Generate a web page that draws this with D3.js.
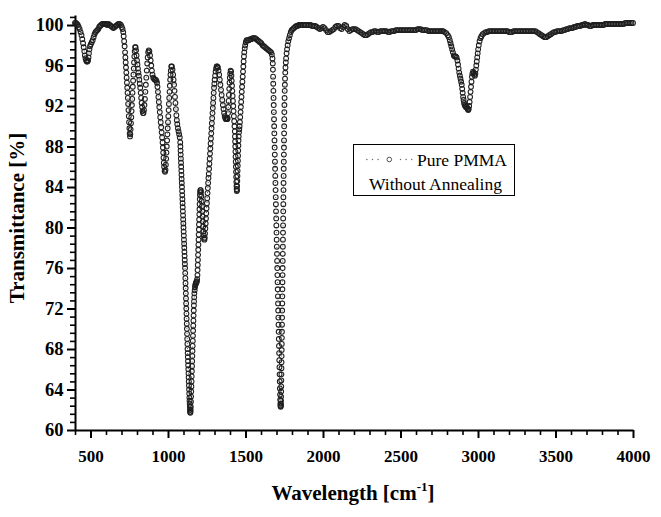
<!DOCTYPE html>
<html>
<head>
<meta charset="utf-8">
<script src="https://cdn.jsdelivr.net/npm/d3@7"></script>
<style>
  body { margin: 0; background: #fff; }
  svg { display: block; }
  text { font-family: "Times New Roman", "Liberation Serif", serif; }
</style>
</head>
<body>
<script>
// FTIR spectrum, Pure PMMA without annealing: [wavenumber cm-1, transmittance %]
const spectrum = [
  [400,100.2],[406,100.2],[412,100.1],[418,100.0],[424,99.8],[430,99.6],[436,99.3],[442,99.0],[447,98.6],[452,98.2],[456,97.8],[460,97.4],[464,97.0],[468,96.7],[472,96.5],[476,96.4],[480,96.4],[484,96.5],[487,96.8],[490,97.2],[493,97.6],[497,97.9],[502,98.1],[508,98.3],[514,98.5],[520,98.8],[526,99.1],[532,99.3],[538,99.4],[544,99.5],[550,99.6],[556,99.8],[562,99.9],[568,100.0],[576,100.1],[584,100.1],[592,100.1],[600,100.1],[608,100.0],[616,100.1],[624,100.0],[632,99.9],[640,99.8],[648,99.7],[656,99.8],[664,99.9],[672,100.0],[680,100.1],[688,100.1],[696,100.0],[702,99.8],[707,99.6],[711,99.3],[714,98.9],[717,98.4],
  [720,97.9],[723,97.3],[725,96.8],[727,96.3],[729,95.8],[731,95.3],[733,94.8],[735,94.3],[737,93.8],[739,93.3],[741,92.8],[743,92.2],[745,91.6],[747,91.0],[749,90.4],[751,89.8],[753,89.3],[755,89.0],[757,89.2],[759,89.7],[761,90.3],[763,90.9],[765,91.5],[767,92.1],[769,92.7],[771,93.3],[773,93.9],[775,94.5],[777,95.1],[779,95.7],[781,96.3],[783,96.9],[785,97.4],[788,97.8],[791,97.8],[794,97.5],[797,97.0],[800,96.5],[803,96.1],[806,95.7],[809,95.3],[812,95.0],[815,94.6],[818,94.2],[821,93.8],[824,93.3],[827,92.8],[830,92.3],[833,91.9],[836,91.5],[839,91.3],[842,91.3],[845,91.6],[848,92.1],[851,92.7],[854,93.4],[857,94.1],[860,94.8],[863,95.5],[866,96.2],[869,96.8],[872,97.3],[876,97.5],[880,97.4],[884,97.0],[888,96.5],[892,96.0],[896,95.5],[900,95.1],[905,94.8],[910,94.7],[915,94.6],[920,94.6],[925,94.5],[929,94.3],[932,93.9],[935,93.4],[938,92.9],[941,92.4],[944,91.9],[947,91.4],[950,90.9],[953,90.4],[956,89.9],[959,89.4],[962,88.9],[965,88.4],[967,87.9],[969,87.4],[971,86.9],[973,86.4],[975,86.0],[978,85.6],[981,85.5],[984,85.7],[986,86.2],[988,86.8],[990,87.4],[992,88.0],[994,88.6],[996,89.2],[998,89.8],[1000,90.4],[1002,91.0],[1004,91.6],[1006,92.2],[1008,92.8],[1010,93.4],[1012,94.0],[1014,94.6],[1016,95.1],[1018,95.5],[1021,95.9],[1025,95.9],[1029,95.6],[1033,95.1],[1036,94.6],[1039,94.1],[1042,93.5],[1045,92.9],[1048,92.3],[1051,91.7],[1054,91.1],[1057,90.6],[1060,90.2],[1064,89.8],[1068,89.5],[1072,89.2],[1076,88.9],[1079,88.4],
  [1080,88.0],[1081,87.6],[1082,87.2],[1083,86.8],[1084,86.4],[1085,86.0],[1086,85.6],[1087,85.2],[1088,84.8],[1089,84.4],[1090,84.0],[1091,83.6],[1092,83.2],[1093,82.8],[1094,82.4],[1095,82.0],[1096,81.6],[1097,81.2],[1098,80.8],[1099,80.4],[1100,80.0],[1101,79.6],[1102,79.2],[1103,78.8],[1104,78.4],[1105,78.0],[1106,77.6],[1107,77.2],[1108,76.8],[1109,76.4],[1110,76.0],[1111,75.5],[1112,75.0],[1113,74.5],[1114,74.0],[1115,73.5],[1116,73.0],[1117,72.5],[1118,72.0],[1119,71.5],[1120,71.0],[1121,70.5],[1122,70.0],[1123,69.5],[1124,69.0],[1125,68.5],[1126,68.0],[1127,67.6],[1128,67.2],[1129,66.8],[1130,66.4],[1131,66.0],[1132,65.6],[1133,65.2],[1134,64.8],[1135,64.4],[1136,64.0],[1137,63.6],[1138,63.2],[1139,62.9],[1140,62.6],[1141,62.3],[1142,62.0],[1143,61.8],[1144,61.7],[1145,61.8],[1146,62.0],
  [1147,62.3],[1148,62.8],[1149,63.3],[1150,63.8],[1151,64.3],[1152,64.8],[1153,65.3],[1154,65.8],[1155,66.3],[1156,66.8],[1157,67.3],[1158,67.8],[1159,68.3],[1160,68.8],[1161,69.3],[1162,69.8],[1163,70.3],[1164,70.8],[1165,71.3],[1166,71.8],[1167,72.3],[1168,72.7],[1169,73.1],[1170,73.5],[1172,73.8],[1174,74.1],[1176,74.3],[1178,74.4],[1180,74.5],[1182,74.6],[1184,74.6],[1186,74.7],[1188,74.9],[1190,75.3],[1191,75.8],[1192,76.3],[1193,76.8],[1194,77.3],[1195,77.8],[1196,78.3],[1197,78.8],[1198,79.3],[1199,79.8],[1200,80.3],[1201,80.8],[1202,81.3],[1203,81.8],[1204,82.3],[1205,82.8],[1206,83.2],[1207,83.5],[1209,83.7],[1211,83.7],[1213,83.5],[1215,83.1],[1217,82.6],[1219,82.1],[1221,81.6],[1223,81.1],[1225,80.6],[1227,80.1],[1229,79.6],[1231,79.2],[1233,78.9],[1235,78.8],[1237,79.0],[1239,79.4],[1241,79.9],[1243,80.4],[1245,80.9],[1247,81.4],[1249,81.9],[1251,82.4],[1253,82.9],[1255,83.4],[1257,83.9],[1259,84.4],[1261,84.9],[1263,85.3],[1265,85.8],[1267,86.3],[1269,86.8],[1271,87.3],[1273,87.8],[1275,88.3],[1277,88.8],[1279,89.3],[1281,89.8],[1283,90.3],[1285,90.8],[1287,91.3],[1289,91.8],[1291,92.3],[1293,92.8],[1295,93.3],[1297,93.8],[1299,94.2],[1301,94.6],[1304,95.0],[1307,95.4],[1310,95.7],[1314,95.9],[1318,95.9],[1322,95.8],[1326,95.5],[1330,95.1],[1334,94.6],[1338,94.1],[1342,93.6],[1346,93.1],[1350,92.6],[1354,92.1],[1358,91.7],[1362,91.3],[1366,91.0],[1370,90.8],[1374,90.7],[1378,90.8],[1382,90.7],[1385,90.8],
  [1387,91.3],[1389,91.9],[1391,92.5],[1393,93.1],[1395,93.7],[1397,94.3],[1399,94.8],[1401,95.2],[1404,95.5],[1407,95.4],[1409,95.0],[1411,94.5],[1413,94.0],[1415,93.5],[1417,93.0],[1419,92.5],[1421,92.0],[1423,91.5],[1425,91.0],[1427,90.5],[1429,90.0],[1431,89.5],[1432,89.0],[1433,88.5],[1434,88.0],[1435,87.5],[1436,87.0],[1437,86.5],[1438,86.0],[1439,85.5],[1440,85.0],[1441,84.5],[1442,84.1],[1443,83.8],[1444,83.6],[1445,83.7],[1446,84.1],[1447,84.6],[1448,85.1],[1449,85.6],[1450,86.1],[1451,86.6],[1452,87.1],[1453,87.6],[1454,88.1],[1455,88.6],[1456,89.0],[1458,89.4],[1460,89.7],[1462,90.0],[1464,90.4],[1466,90.9],[1468,91.4],[1470,91.9],[1472,92.4],[1474,92.9],[1476,93.4],[1478,93.9],[1480,94.4],[1482,94.9],[1484,95.4],[1486,95.9],[1488,96.4],[1490,96.9],[1492,97.3],[1495,97.7],[1498,98.0],[1502,98.3],[1507,98.5],[1514,98.5],[1522,98.5],[1530,98.6],[1538,98.6],[1546,98.7],[1554,98.7],[1562,98.7],[1570,98.6],[1578,98.5],[1586,98.4],[1594,98.3],[1602,98.2],[1610,98.0],[1618,97.9],[1626,97.8],[1634,97.7],[1642,97.6],[1650,97.5],[1658,97.4],[1665,97.3],[1670,97.1],[1674,96.7],
  [1676,96.2],[1677,95.6],[1678,94.9],[1679,94.2],[1680,93.5],[1681,92.8],[1682,92.1],[1683,91.4],[1684,90.7],[1685,90.0],[1686,89.3],[1687,88.6],[1688,87.9],[1689,87.2],[1690,86.5],[1691,85.8],[1692,85.1],[1693,84.4],[1694,83.7],[1695,83.0],[1696,82.3],[1697,81.6],[1698,80.9],[1699,80.2],[1700,79.5],[1701,78.8],[1702,78.1],[1703,77.4],[1704,76.7],[1705,76.0],[1706,75.3],[1707,74.6],[1708,73.9],[1709,73.2],[1710,72.5],[1711,71.8],[1712,71.1],[1713,70.4],[1714,69.7],[1715,69.0],[1716,68.3],[1717,67.6],[1718,66.9],[1719,66.2],[1720,65.5],[1721,64.8],[1722,64.1],[1723,63.5],[1724,63.0],[1725,62.6],[1726,62.4],[1727,62.3],
  [1728,62.4],[1728.5,62.6],[1729,62.9],[1729.5,63.3],[1730,63.8],[1730.5,64.3],[1731,64.9],[1731.5,65.5],[1732,66.1],[1732.5,66.7],[1733,67.3],[1733.5,67.9],[1734,68.5],[1734.5,69.1],[1735,69.7],[1735.5,70.4],[1736,71.1],[1736.5,71.8],[1737,72.5],[1737.5,73.2],[1738,73.9],[1738.5,74.6],[1739,75.3],[1739.5,76.0],[1740,76.7],[1740.5,77.4],[1741,78.1],[1741.5,78.8],[1742,79.5],[1742.5,80.2],[1743,80.9],[1743.5,81.6],[1744,82.3],[1744.5,83.0],[1745,83.7],[1745.5,84.4],[1746,85.1],[1746.5,85.8],[1747,86.5],[1747.5,87.2],[1748,87.9],[1748.5,88.6],[1749,89.3],[1749.5,90.0],[1750,90.7],[1750.5,91.4],[1751,92.1],[1752,92.8],[1753,93.5],[1754,94.1],[1755,94.7],[1756.5,95.3],[1758,95.8],[1760,96.3],[1762,96.7],[1765,97.2],[1768,97.6],[1772,98.0],[1776,98.4],[1781,98.7],[1786,99.0],[1792,99.3],[1798,99.5],[1805,99.6],[1812,99.7],[1820,99.8],[1828,99.9],[1836,99.9],[1844,100.0],[1852,100.0],
  [1860,100.0],[1870,100.0],[1880,100.0],[1890,100.0],[1900,100.0],[1910,100.0],[1920,100.0],[1930,99.9],[1940,99.9],[1950,99.9],[1960,99.8],[1970,99.7],[1980,99.6],[1990,99.7],[2000,99.8],[2010,99.7],[2020,99.5],[2030,99.3],[2040,99.3],[2050,99.4],[2060,99.5],[2070,99.6],[2080,99.8],[2090,99.9],[2100,99.9],[2110,99.7],[2120,99.6],[2130,99.8],[2140,100.0],[2150,99.9],[2160,99.6],[2170,99.4],[2180,99.5],[2190,99.6],[2200,99.6],[2210,99.6],[2220,99.5],[2230,99.4],[2240,99.3],[2250,99.2],[2260,99.1],[2270,99.0],[2280,99.0],[2290,99.1],[2300,99.2],[2310,99.3],[2320,99.3],[2330,99.4],[2340,99.4],[2350,99.3],[2360,99.3],[2370,99.4],[2380,99.4],[2390,99.4],[2400,99.4],[2410,99.4],[2420,99.3],[2430,99.3],[2440,99.4],[2450,99.4],[2460,99.4],[2470,99.5],[2480,99.5],[2490,99.5],[2500,99.5],[2510,99.5],[2520,99.5],[2530,99.5],[2540,99.5],[2550,99.5],[2560,99.5],[2570,99.5],[2580,99.5],[2590,99.5],[2600,99.5],[2610,99.6],[2620,99.6],[2630,99.6],[2640,99.5],[2650,99.5],[2660,99.5],[2670,99.5],[2680,99.4],[2690,99.4],[2700,99.4],[2710,99.4],[2720,99.4],[2730,99.4],[2740,99.4],[2750,99.4],[2760,99.4],[2768,99.4],
  [2775,99.4],[2785,99.3],[2795,99.2],[2805,99.0],[2812,98.8],[2818,98.5],[2823,98.2],[2828,97.9],[2833,97.6],[2838,97.3],[2844,97.0],[2850,96.9],[2856,96.9],[2862,96.8],[2867,96.5],[2871,96.1],[2875,95.7],[2879,95.3],[2883,95.0],[2887,94.7],[2891,94.4],[2895,94.1],[2898,93.7],[2901,93.3],[2904,92.9],[2907,92.6],[2910,92.3],[2914,92.1],[2918,92.0],[2922,91.9],[2926,91.9],[2930,91.8],[2934,91.7],[2937,91.6],[2940,91.7],[2943,92.0],[2946,92.4],[2949,92.9],[2952,93.4],[2955,93.9],[2958,94.4],[2961,94.9],[2964,95.2],[2968,95.4],[2972,95.3],[2976,95.1],[2980,95.0],[2983,95.2],[2986,95.6],[2989,96.0],[2992,96.4],[2995,96.8],[2998,97.2],[3001,97.6],[3005,98.0],[3010,98.4],[3016,98.7],[3022,98.9],[3030,99.1],[3040,99.2],[3050,99.3],[3060,99.3],
  [3070,99.4],[3080,99.4],[3090,99.4],[3100,99.4],[3110,99.4],[3120,99.4],[3130,99.4],[3140,99.4],[3150,99.4],[3160,99.4],[3170,99.4],[3180,99.4],[3190,99.4],[3200,99.3],[3210,99.3],[3220,99.3],[3230,99.4],[3240,99.4],[3250,99.4],[3260,99.4],[3270,99.4],[3280,99.4],[3290,99.4],[3300,99.4],[3310,99.4],[3320,99.4],[3330,99.4],[3340,99.4],[3350,99.4],[3360,99.4],[3370,99.4],[3380,99.3],[3390,99.2],[3400,99.1],[3410,99.0],[3420,98.9],[3430,98.8],[3440,98.8],[3450,98.9],[3460,99.0],[3470,99.1],[3480,99.2],[3490,99.3],[3500,99.3],[3510,99.4],[3520,99.4],[3530,99.4],[3540,99.4],[3550,99.5],[3560,99.5],[3570,99.6],[3580,99.6],[3590,99.7],[3600,99.7],[3610,99.7],[3620,99.8],[3630,99.8],[3640,99.9],[3650,99.9],[3660,99.9],[3670,100.0],[3680,100.0],[3690,100.1],[3700,100.0],[3710,100.0],[3720,99.9],[3730,99.9],[3740,100.0],[3750,100.0],[3760,100.0],[3770,100.0],[3780,100.0],[3790,100.0],[3800,100.0],[3810,100.0],[3820,100.1],[3830,100.1],[3840,100.1],[3850,100.1],[3860,100.1],[3870,100.1],[3880,100.1],[3890,100.1],[3900,100.1],[3910,100.1],[3920,100.1],[3930,100.1],[3940,100.1],[3950,100.2],[3960,100.2],[3970,100.2],[3980,100.2],[3990,100.2],[4000,100.2]
];

const xTicks = [500, 1000, 1500, 2000, 2500, 3000, 3500, 4000];
const yTicks = [60, 64, 68, 72, 76, 80, 84, 88, 92, 96, 100];
const legendLabels = ['Pure PMMA', 'Without Annealing'];

const width = 661, height = 517;

const xScale = d3.scaleLinear().domain([400, 4000]).range([75, 633]);
const yScale = d3.scaleLinear().domain([60, 101]).range([430, 14.9]);

// minor ticks: every 100 cm-1 on x, 5 intervals per major on y
const xMinor = d3.range(4, 41).map(i => i * 100).filter(v => v % 500 !== 0);
const yMinor = d3.range(0, 52).filter(i => i % 5 !== 0).map(i => 60 + i * 0.8);

const svg = d3.create('svg')
    .attr('width', width)
    .attr('height', height)
    .attr('viewBox', [0, 0, width, height]);

// x axis
const gxMinor = svg.append('g')
    .attr('transform', 'translate(0,430)')
    .call(d3.axisBottom(xScale).tickValues(xMinor).tickSize(5).tickSizeOuter(0).tickFormat(''));
gxMinor.select('.domain').remove();
gxMinor.selectAll('line').attr('stroke-width', 1.6);

const gx = svg.append('g')
    .attr('transform', 'translate(0,430)')
    .call(d3.axisBottom(xScale).tickValues(xTicks).tickSize(8).tickSizeOuter(0).tickFormat(d3.format('d')));
gx.select('.domain').attr('stroke-width', 2);
gx.selectAll('line').attr('stroke-width', 2);
gx.selectAll('text')
    .attr('y', 32).attr('dy', 0)
    .attr('font-size', 17).attr('font-weight', 'bold')
    .attr('font-family', '"Times New Roman", "Liberation Serif", serif');

// y axis
const gyMinor = svg.append('g')
    .attr('transform', 'translate(75,0)')
    .call(d3.axisLeft(yScale).tickValues(yMinor).tickSize(5).tickSizeOuter(0).tickFormat(''));
gyMinor.select('.domain').remove();
gyMinor.selectAll('line').attr('stroke-width', 1.6);

const gy = svg.append('g')
    .attr('transform', 'translate(75,0)')
    .call(d3.axisLeft(yScale).tickValues(yTicks).tickSize(8).tickSizeOuter(0));
gy.select('.domain').attr('stroke-width', 2);
gy.selectAll('line').attr('stroke-width', 2);
gy.selectAll('text')
    .attr('x', -11.5)
    .attr('font-size', 18.5).attr('font-weight', 'bold')
    .attr('font-family', '"Times New Roman", "Liberation Serif", serif');

// data: dotted connecting line + open circles
const line = d3.line().x(d => xScale(d[0])).y(d => yScale(d[1]));
svg.append('path')
    .datum(spectrum)
    .attr('d', line)
    .attr('fill', 'none')
    .attr('stroke', '#555')
    .attr('stroke-width', 1)
    .attr('stroke-dasharray', '1 4');

svg.append('g')
    .attr('fill', 'none')
    .attr('stroke', '#1e1e1e')
    .attr('stroke-width', 1.05)
  .selectAll('circle')
  .data(spectrum)
  .join('circle')
    .attr('cx', d => xScale(d[0]))
    .attr('cy', d => yScale(d[1]))
    .attr('r', 2.4);

// axis titles
svg.append('text')
    .attr('transform', 'translate(24,218) rotate(-90)')
    .attr('text-anchor', 'middle')
    .attr('font-size', 21).attr('font-weight', 'bold')
    .text('Transmittance [%]');

const xt = svg.append('text')
    .attr('x', 353).attr('y', 500)
    .attr('text-anchor', 'middle')
    .attr('font-size', 21).attr('font-weight', 'bold');
xt.append('tspan').text('Wavelength [cm');
xt.append('tspan').attr('font-size', 13).attr('dy', -9).text('-1');
xt.append('tspan').attr('dy', 9).text(']');

// legend
const lg = svg.append('g');
lg.append('rect')
    .attr('x', 353.5).attr('y', 144.5)
    .attr('width', 161).attr('height', 51)
    .attr('fill', '#fff').attr('stroke', '#000').attr('stroke-width', 1);
lg.selectAll('circle.dot')
  .data([-4, -3, -2, 2, 3, 4])
  .join('circle')
    .attr('class', 'dot')
    .attr('cx', k => 389.3 + k * 5.6)
    .attr('cy', 159.5)
    .attr('r', 0.7)
    .attr('fill', '#666');
lg.append('circle')
    .attr('cx', 389.3).attr('cy', 159.5).attr('r', 2.3)
    .attr('fill', 'none').attr('stroke', '#2a2a2a').attr('stroke-width', 0.8);
lg.append('text')
    .attr('x', 417).attr('y', 165.5)
    .attr('font-size', 17.5)
    .text(legendLabels[0]);
lg.append('text')
    .attr('x', 369).attr('y', 189.5)
    .attr('font-size', 17.5)
    .text(legendLabels[1]);

document.body.append(svg.node());
</script>
</body>
</html>
